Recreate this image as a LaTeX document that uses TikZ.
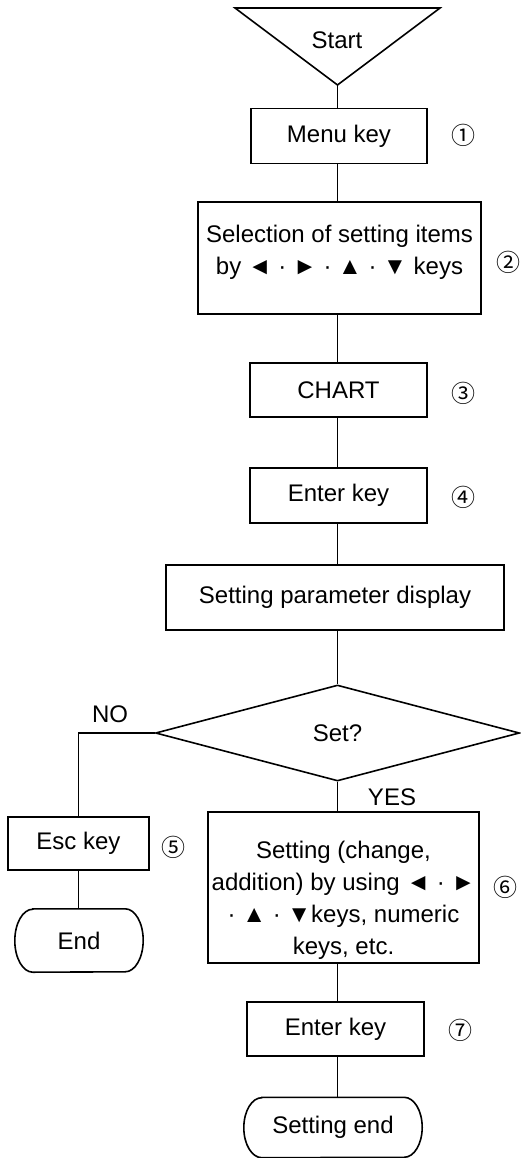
\documentclass[tikz,border=0pt]{standalone}
\usepackage{fontspec}
\setmainfont{Liberation Sans}
\newfontfamily\symf{Noto Sans CJK JP}
\usetikzlibrary{shapes.geometric}
\begin{document}
\begin{tikzpicture}[x=1pt,y=-1pt,
  every node/.style={font=\fontsize{24}{32}\selectfont},
  line/.style={line width=1.6pt},
  box/.style={draw,line width=1.6pt,rectangle,inner sep=0pt},
  term/.style={rectangle,inner sep=0pt},
  num/.style={font=\symf\fontsize{24}{28}\selectfont,inner sep=0pt},
  lbl/.style={inner sep=0pt}]
\useasboundingbox (0,0) rectangle (520,1158);
% Start triangle
\draw[line,line join=miter] (235,8) -- (440,8) -- (337.5,85) -- cycle;
\node[lbl] (start) at (337,40) {Start};
\coordinate (tip) at (337.5,85);
% boxes
\node[box,minimum width=176,minimum height=55] (menu) at (339,136) {Menu key};
\node[num] (n1) at (463,135) {①};
\node[box,minimum width=283,minimum height=112] (sel) at (339.5,258) {};
\node[lbl,align=center] (selt) at (339.5,252) {Selection of setting items\\by ◄ · ► · ▲ · ▼ keys};
\node[num] (n2) at (508,262) {②};
\node[box,minimum width=177,minimum height=54] (chart) at (338.5,390) {CHART};
\node[num] (n3) at (463,393) {③};
\node[box,minimum width=177,minimum height=55] (enter1) at (338.5,495.5) {Enter key};
\node[num] (n4) at (463,497) {④};
\node[box,minimum width=338,minimum height=65] (param) at (335,597.5) {Setting parameter display};
\node[draw,line width=1.6pt,diamond,minimum width=364,minimum height=96,inner sep=0pt] (dia) at (337.5,733) {Set?};
\node[lbl] (no) at (110,714) {NO};
\node[lbl] (yes) at (392,797) {YES};
\node[box,minimum width=141,minimum height=53] (esc) at (78.5,843.5) {Esc key};
\node[num] (n5) at (173,847) {⑤};
\node[term,minimum width=128,minimum height=63] (end) at (79,940.5) {End};
\draw[line] ([xshift=18]end.north west) -- ([xshift=-18]end.north east)
  arc[start angle=90,end angle=-90,x radius=18,y radius=-31.5]
  -- ([xshift=18]end.south west)
  arc[start angle=270,end angle=90,x radius=18,y radius=-31.5] -- cycle;
\node[box,minimum width=271,minimum height=151] (setb) at (343.5,887.5) {};
\node[lbl,align=center] (setbt) at (343.5,900.5) {Setting (change,\\addition) by using ◄ · ►\\· ▲ · ▼keys, numeric\\keys, etc.};
\node[num] (n6) at (505,887) {⑥};
\node[box,minimum width=177,minimum height=54] (enter2) at (335.5,1029) {Enter key};
\node[num] (n7) at (460,1030) {⑦};
\node[term,minimum width=178,minimum height=60] (send) at (333,1127.5) {Setting end};
\draw[line] ([xshift=18]send.north west) -- ([xshift=-18]send.north east)
  arc[start angle=90,end angle=-90,x radius=18,y radius=-30]
  -- ([xshift=18]send.south west)
  arc[start angle=270,end angle=90,x radius=18,y radius=-30] -- cycle;
% connectors
\draw[line] (tip) -- (tip |- menu.north);
\draw[line] (tip |- menu.south) -- (tip |- sel.north);
\draw[line] (tip |- sel.south) -- (tip |- chart.north);
\draw[line] (tip |- chart.south) -- (tip |- enter1.north);
\draw[line] (tip |- enter1.south) -- (tip |- param.north);
\draw[line] (tip |- param.south) -- (dia.north);
\draw[line] (dia.west) -| (esc.north);
\draw[line] (esc.south) -- (esc.south |- end.north);
\draw[line] (dia.south) -- (dia.south |- setb.north);
\draw[line] (dia.south |- setb.south) -- (dia.south |- enter2.north);
\draw[line] (dia.south |- enter2.south) -- (dia.south |- send.north);
\end{tikzpicture}
\end{document}
